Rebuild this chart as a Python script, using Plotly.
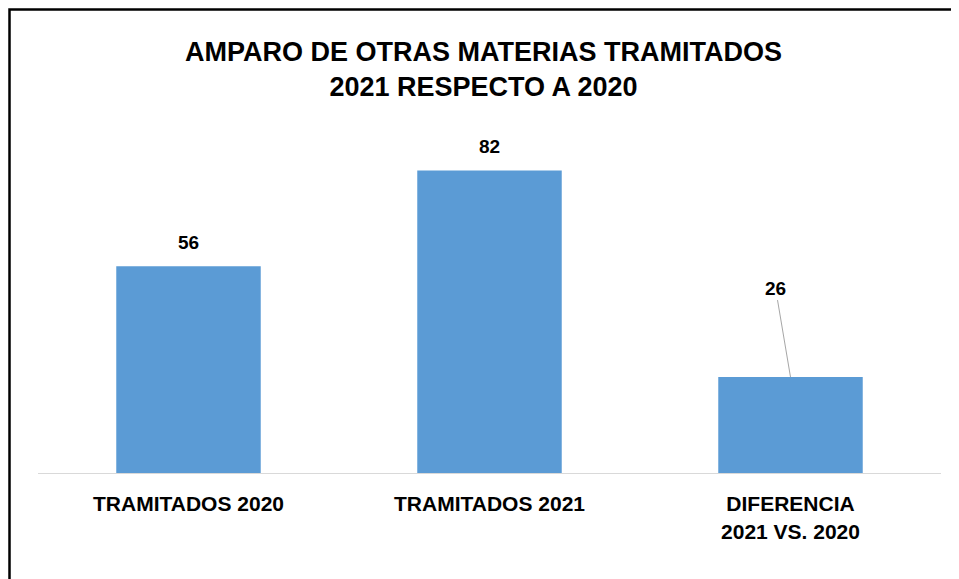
import plotly.graph_objects as go

categorias = ["TRAMITADOS 2020", "TRAMITADOS 2021", "DIFERENCIA<br>2021 VS. 2020"]
valores = [56, 82, 26]
etiquetas = ["56", "82", "26"]

titulo = "AMPARO DE OTRAS MATERIAS TRAMITADOS<br>2021 RESPECTO A 2020"

fuente = "Liberation Sans, Arial, sans-serif"
azul = "#5B9BD5"

# la pagina tiene 8px de margen en el body
W, H = 951, 571
m_l, m_r, m_t, m_b = 30, 18, 96, 106

fig = go.Figure()

fig.add_trace(
    go.Bar(
        x=categorias,
        y=valores,
        marker=dict(color=azul, line=dict(width=0)),
        width=0.48,
        hoverinfo="skip",
    )
)

# etiquetas de datos
for i, (cat, val, txt) in enumerate(zip(categorias, valores, etiquetas)):
    if i == 2:
        fig.add_annotation(
            x=cat, y=val, text="<b>%s</b>" % txt,
            showarrow=True, arrowhead=0, arrowwidth=1, arrowcolor="#A6A6A6",
            ax=-15, ay=-89, standoff=0,
            font=dict(family=fuente, size=19, color="#000000"),
        )
    else:
        fig.add_annotation(
            x=cat, y=val, text="<b>%s</b>" % txt,
            showarrow=False, yanchor="bottom", yshift=11,
            font=dict(family=fuente, size=19, color="#000000"),
        )

# marco negro
pw = W - m_l - m_r
ph = H - m_t - m_b
fig.add_shape(
    type="rect", xref="paper", yref="paper",
    x0=(1.5 - m_l) / pw, x1=(947 - m_l) / pw,
    y0=-(m_b + 20) / ph, y1=1 + (m_t - 1.5) / ph,
    line=dict(color="#000000", width=2.5),
)

fig.update_layout(
    width=W, height=H,
    margin=dict(l=m_l, r=m_r, t=m_t, b=m_b),
    paper_bgcolor="white",
    plot_bgcolor="white",
    showlegend=False,
    title=dict(
        text="<b>%s</b>" % titulo,
        x=0.5, xanchor="center", y=1 - 53 / H, yanchor="middle",
        font=dict(family=fuente, size=27, color="#000000"),
    ),
    xaxis=dict(
        showline=True, linecolor="#D9D9D9", linewidth=1,
        tickfont=dict(family=fuente, size=21, color="#000000"),
        ticks="", showgrid=False, ticklabelstandoff=12,
        tickvals=categorias,
        ticktext=["<b>%s</b>" % c for c in categorias],
    ),
    yaxis=dict(
        range=[0, 100], visible=False, showgrid=False, zeroline=False,
    ),
)

fig.write_html("out.html")
